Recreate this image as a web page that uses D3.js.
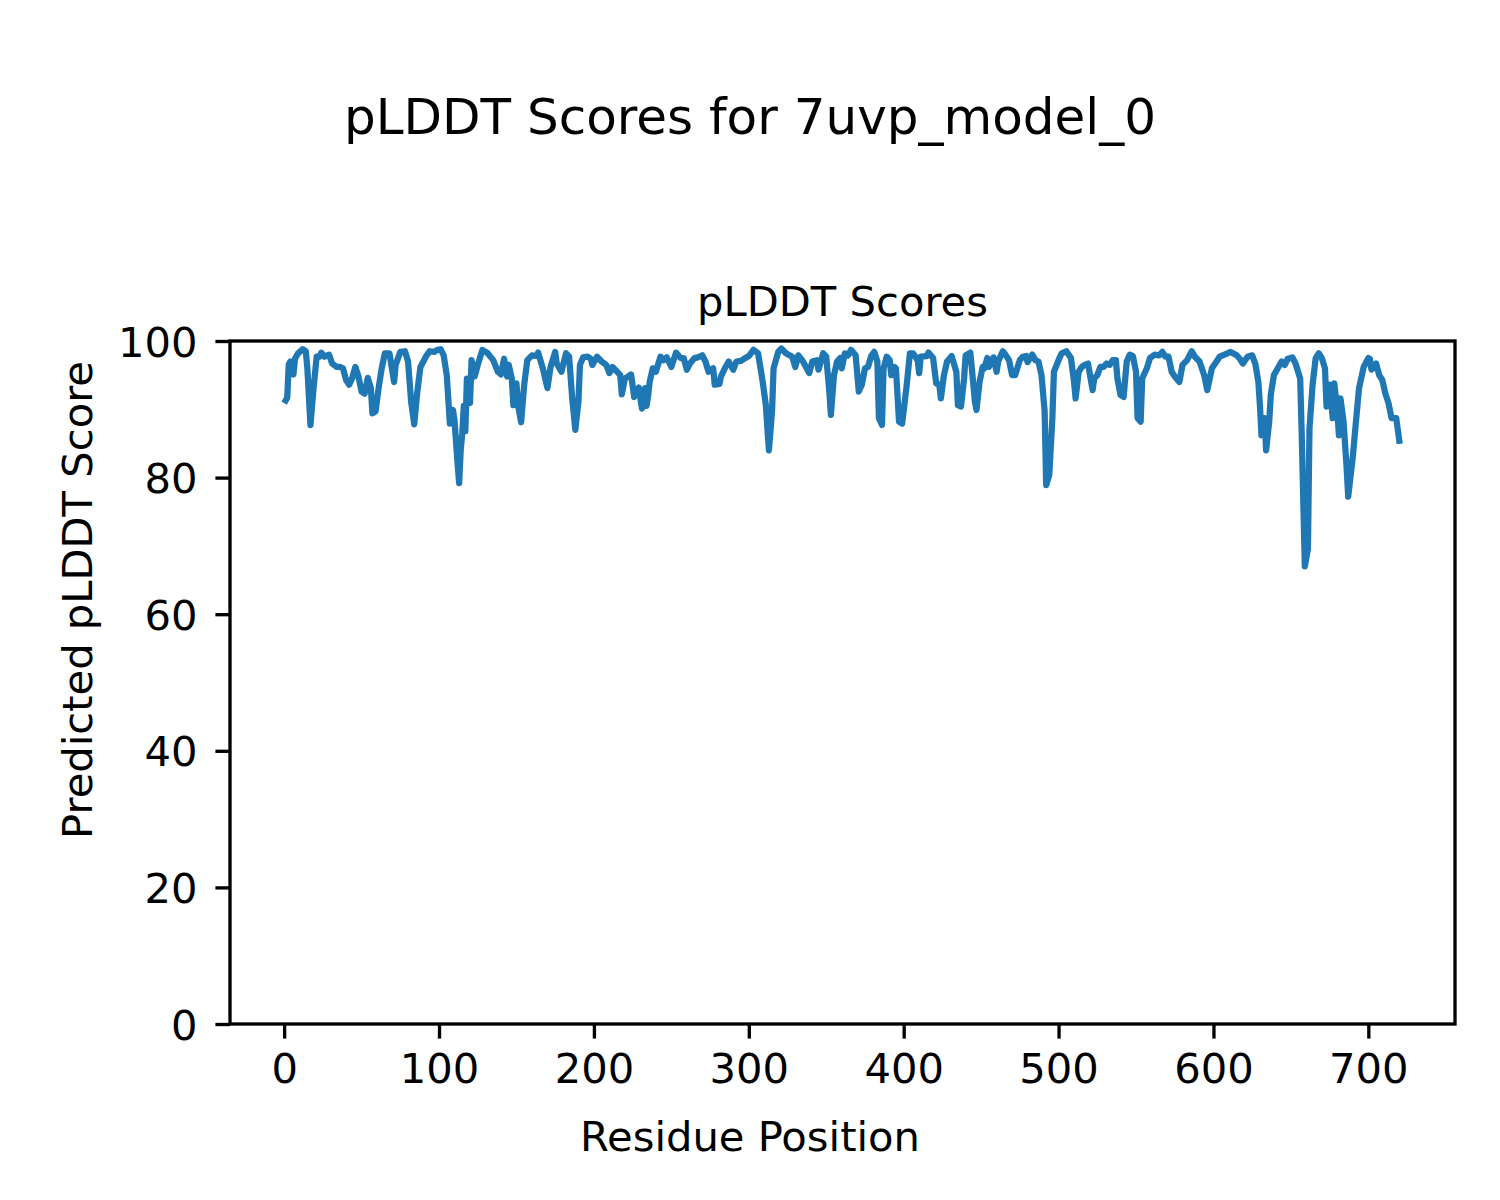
<!DOCTYPE html>
<html>
<head>
<meta charset="utf-8">
<script src="https://cdn.jsdelivr.net/npm/d3@7"></script>
<style>
  html, body { margin: 0; padding: 0; background: #fff; }
  svg { display: block; }
  text { font-family: "DejaVu Sans", sans-serif; fill: #000; }
</style>
</head>
<body>
<svg id="chart" width="1500" height="1200"></svg>
<script>
// Data (residue position, pLDDT score), 10 per line
const residues = [
  1,2,3,4,6,7,9,12,14,15,
  17,19,21,23,24,26,29,31,34,36,
  38,40,42,44,46,48,50,52,54,56,
  57,59,61,63,65,68,71,72,75,78,
  80,82,84,86,88,92,94,97,99,101,
  103,105,107,109,110,112,113,114,115,116,
  117,118,120,121,123,125,128,131,135,138,
  140,142,144,145,147,148,150,151,153,155,
  157,160,163,164,167,170,172,175,176,179,
  182,184,186,188,190,191,193,196,198,199,
  202,205,208,210,212,215,217,218,220,222,
  224,226,229,231,233,234,235,236,238,240,
  243,245,247,250,253,256,258,260,262,265,
  267,270,272,274,277,278,281,282,285,287,
  290,292,295,297,300,303,306,309,311,313,
  315,316,319,321,324,328,330,332,335,339,
  341,344,345,348,350,352,353,355,357,359,
  360,362,364,366,369,371,373,375,377,379,
  381,383,384,386,387,389,391,392,394,395,
  397,399,402,404,406,409,410,411,415,416,
  419,421,423,424,426,428,431,432,434,435,
  437,439,440,443,444,446,447,449,451,452,
  454,455,458,460,461,464,466,468,470,472,
  474,475,477,479,480,483,485,487,489,491,
  492,494,496,497,500,502,505,508,510,511,
  513,515,517,519,522,523,525,527,529,531,
  533,535,537,538,540,542,544,546,548,550,
  551,553,554,557,559,562,565,567,569,571,
  573,575,578,580,583,586,588,591,594,596,
  599,602,604,606,609,611,615,617,619,622,
  625,627,629,630,631,633,634,636,637,639,
  642,644,646,648,651,653,656,657,659,661,
  662,664,666,668,670,672,673,675,677,678,
  680,681,682,684,686,687,690,692,694,697,
  700,701,702,705,707,709,711,713,715,718,
  720
];
const scores = [
  91.3,91.7,96.6,97.0,95.1,97.4,98.2,98.8,98.5,96.0,
  87.7,93.1,97.7,97.7,98.3,97.7,98.0,96.7,96.2,96.2,
  96.0,94.3,93.6,94.6,96.2,94.8,92.6,92.3,94.6,93.1,
  89.4,89.7,93.1,96.0,98.2,98.2,94.0,96.5,98.4,98.5,
  97.0,91.1,87.8,92.6,96.2,97.9,98.5,98.4,98.7,98.8,
  97.9,95.0,87.9,89.9,88.4,82.0,79.2,84.0,86.5,90.5,
  86.8,94.5,90.9,97.2,94.8,96.5,98.7,98.3,97.2,95.5,
  95.1,97.4,94.8,96.5,94.5,90.6,93.8,90.6,88.1,93.6,
  97.2,97.9,97.8,98.3,96.0,93.1,96.2,98.4,96.7,95.5,
  98.2,97.7,91.6,87.0,91.1,96.5,97.6,97.7,97.4,96.5,
  97.7,97.0,96.5,95.3,96.2,95.5,95.0,92.2,94.5,94.8,
  95.1,91.8,93.2,90.1,93.1,90.5,92.0,94.0,96.0,95.5,
  97.7,97.2,97.6,96.2,98.3,97.5,97.5,95.8,96.7,97.5,
  97.6,97.9,97.0,95.5,96.0,93.6,93.7,94.8,96.2,97.0,
  95.8,97.0,97.1,97.4,97.8,98.7,98.2,94.0,90.6,84.0,
  89.7,96.0,98.4,98.9,98.2,97.7,96.2,97.9,97.0,95.3,
  97.0,97.2,95.8,98.2,97.7,92.6,89.2,95.0,97.0,97.5,
  96.0,98.2,97.9,98.7,97.9,92.6,93.6,96.0,96.2,97.8,
  98.4,97.0,88.7,87.7,96.0,97.7,97.2,95.0,96.2,96.0,
  88.2,87.9,93.6,98.2,98.2,97.2,95.3,97.7,97.8,98.3,
  97.5,93.8,93.6,91.6,95.0,97.0,97.8,97.0,95.5,90.6,
  90.4,94.5,97.9,98.3,96.0,91.1,89.9,94.0,96.2,96.0,
  97.5,96.2,97.6,95.5,97.0,98.5,97.9,97.2,95.0,95.0,
  96.5,97.2,97.7,97.8,96.9,98.0,97.2,97.0,95.0,89.7,
  78.9,80.4,88.7,95.5,97.2,98.2,98.5,97.5,94.0,91.6,
  95.5,96.2,96.5,96.7,92.8,94.5,95.0,96.2,96.2,96.7,
  96.5,97.2,97.2,94.5,92.1,91.8,97.0,98.0,97.8,95.5,
  88.7,88.2,94.5,96.0,97.5,98.0,97.9,98.4,97.7,97.7,
  95.5,94.8,94.0,96.5,97.2,98.5,97.7,97.0,95.0,92.8,
  96.0,97.0,97.7,97.9,98.2,98.4,97.9,97.4,96.7,97.7,
  97.9,96.7,94.0,90.6,86.2,88.7,84.0,88.2,92.1,95.0,
  96.2,97.0,96.5,97.4,97.6,96.7,94.5,86.2,67.0,69.6,
  87.2,93.6,97.5,98.2,97.5,96.0,90.4,93.6,88.7,93.8,
  89.7,86.2,91.6,88.2,81.4,77.2,83.1,88.2,93.1,96.2,
  97.5,97.4,95.8,96.7,95.0,94.3,92.3,90.9,88.7,88.7,
  85.4
];
const xTicks = [0,100,200,300,400,500,600,700];
const yTicks = [0,20,40,60,80,100];
const titleText = "pLDDT Scores for 7uvp_model_0";
const subTitleText = "pLDDT Scores";
const xLabelText = "Residue Position";
const yLabelText = "Predicted pLDDT Score";

const svg = d3.select("#chart");
const L = 230, R = 1455, T = 341, B = 1024;
const FS = 41.67;

const dmin = d3.min(residues), dmax = d3.max(residues);
const pad = (dmax - dmin) * 0.05;
const x = d3.scaleLinear().domain([dmin - pad, dmax + pad]).range([L, R]);
const y = d3.scaleLinear().domain([0, 100]).range([B, T]);

// line
const n = Math.min(residues.length, scores.length);
const pts = d3.range(n).map(i => [residues[i], scores[i]]);
svg.append("path")
  .datum(pts)
  .attr("fill", "none")
  .attr("stroke", "#1f77b4")
  .attr("stroke-width", 6.25)
  .attr("stroke-linejoin", "round")
  .attr("stroke-linecap", "square")
  .attr("d", d3.line().x(d => x(d[0])).y(d => y(d[1])));

// axes
const xAxis = d3.axisBottom(x).tickValues(xTicks).tickSize(14.6).tickPadding(14).tickFormat(d3.format("d"));
const yAxis = d3.axisLeft(y).tickValues(yTicks).tickSize(14.6).tickPadding(18).tickFormat(d3.format("d"));

const gx = svg.append("g").attr("transform", `translate(0,${B})`).call(xAxis);
const gy = svg.append("g").attr("transform", `translate(${L},0)`).call(yAxis);
[gx, gy].forEach(g => {
  g.select(".domain").remove();
  g.selectAll(".tick line").attr("stroke", "#000").attr("stroke-width", 3.33);
  g.selectAll(".tick text").attr("font-size", FS).attr("font-family", "DejaVu Sans").attr("fill", "#000");
});
gx.selectAll(".tick text").attr("dy", "0.74em");
gy.selectAll(".tick text").attr("dy", "0.36em");

// frame (spines)
svg.append("rect")
  .attr("x", L).attr("y", T).attr("width", R - L).attr("height", B - T)
  .attr("fill", "none").attr("stroke", "#000").attr("stroke-width", 3.33)
  .attr("stroke-linejoin", "miter");

// titles
svg.append("text").attr("x", 750).attr("y", 134).attr("text-anchor", "middle")
  .attr("font-size", 50).text(titleText);
svg.append("text").attr("x", (L + R) / 2).attr("y", 316).attr("text-anchor", "middle")
  .attr("font-size", FS).text(subTitleText);
svg.append("text").attr("x", 750).attr("y", 1151).attr("text-anchor", "middle")
  .attr("font-size", FS).text(xLabelText);
svg.append("text").attr("transform", "translate(92,600) rotate(-90)").attr("text-anchor", "middle")
  .attr("font-size", FS).text(yLabelText);
</script>
</body>
</html>
